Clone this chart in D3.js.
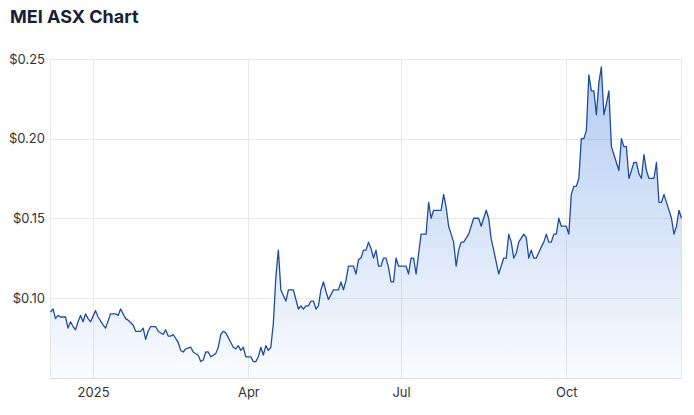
<!DOCTYPE html>
<html><head><meta charset="utf-8">
<script src="https://cdn.jsdelivr.net/npm/d3@7"></script>
<style>body{margin:0;background:#fff}svg{display:block}</style>
</head><body><svg id="c" width="694" height="415"></svg>
<script>
const title = "MEI ASX Chart";
// trading-session index (0 = first session shown) and closing price
const day = [0,1,2,3,4,6,7,8,9,10,11,12,13,14,15,16,18,19,21,22,24,26,27,28,30,31,33,34,36,37,38,39,40,42,43,45,46,47,48,49,51,52,53,54,56,57,59,60,61,62,63,64,66,67,68,69,70,72,73,74,75,76,77,78,80,81,82,83,84,85,86,87,88,89,90,91,92,94,95,97,98,99,100,101,102,103,104,105,106,107,108,109,110,111,113,115,116,117,118,119,121,122,123,124,125,126,127,128,129,130,131,132,133,134,135,136,137,138,139,142,143,144,145,146,148,150,151,152,153,156,157,158,159,160,161,162,163,164,165,167,168,169,171,172,173,174,175,176,177,179,181,182,183,184,185,186,187,189,190,191,192,193,194,196,197,198,199,200,201,202,203,204,206,207,208,209,210,211,212,213,214,215,216,217,218,219,220,221,222,223,224,225,227,228,229,230,231,232,233,234,235,236,237,238,239,241,242,243,244,245,246,248,249,250,251,252];
const price = [0.091,0.093,0.087,0.089,0.088,0.088,0.081,0.085,0.082,0.080,0.085,0.089,0.085,0.090,0.087,0.085,0.092,0.088,0.083,0.081,0.090,0.090,0.089,0.093,0.087,0.086,0.083,0.079,0.079,0.081,0.074,0.079,0.082,0.082,0.079,0.077,0.080,0.076,0.076,0.077,0.072,0.067,0.066,0.068,0.069,0.066,0.064,0.060,0.061,0.066,0.066,0.063,0.065,0.069,0.077,0.079,0.078,0.072,0.069,0.068,0.070,0.067,0.069,0.063,0.063,0.060,0.060,0.063,0.069,0.064,0.070,0.067,0.069,0.084,0.113,0.130,0.105,0.098,0.105,0.105,0.099,0.093,0.095,0.093,0.095,0.095,0.098,0.098,0.093,0.095,0.105,0.110,0.104,0.099,0.105,0.105,0.110,0.105,0.111,0.120,0.120,0.115,0.124,0.125,0.130,0.130,0.135,0.131,0.125,0.130,0.120,0.120,0.125,0.125,0.119,0.110,0.110,0.125,0.120,0.120,0.115,0.125,0.125,0.115,0.140,0.140,0.160,0.150,0.155,0.155,0.165,0.157,0.145,0.140,0.135,0.120,0.130,0.135,0.135,0.140,0.145,0.150,0.150,0.145,0.150,0.155,0.150,0.137,0.130,0.115,0.125,0.125,0.140,0.135,0.125,0.128,0.135,0.140,0.138,0.125,0.130,0.125,0.125,0.132,0.135,0.140,0.135,0.135,0.140,0.140,0.150,0.145,0.145,0.140,0.165,0.170,0.170,0.175,0.200,0.200,0.205,0.240,0.230,0.230,0.215,0.235,0.245,0.215,0.222,0.230,0.195,0.190,0.180,0.200,0.195,0.195,0.175,0.180,0.185,0.185,0.178,0.175,0.190,0.180,0.175,0.175,0.185,0.160,0.160,0.165,0.160,0.150,0.140,0.145,0.155,0.150];
const yTicks = [0.10, 0.15, 0.20, 0.25];
const xTickDays = [17, 79, 140, 206];
const xTickLabels = ["2025", "Apr", "Jul", "Oct"];
const firstDay = 0, lastDay = 252;

const data = day.map((d, i) => ({d, p: price[i]}));
const svg = d3.select("#c");
const L = 50, R = 682, T = 59, B = 377.5;
const x = d3.scaleLinear().domain([firstDay, lastDay]).range([L + 0.5, R - 0.5]);
const y = d3.scaleLinear().domain([0.05, 0.25]).range([B, T]);

const defs = svg.append("defs");
const g = defs.append("linearGradient").attr("id", "fill").attr("x1", 0).attr("y1", 0).attr("x2", 0).attr("y2", 1);
g.append("stop").attr("offset", "0%").attr("stop-color", "#4a86e0").attr("stop-opacity", 0.42);
g.append("stop").attr("offset", "100%").attr("stop-color", "#4a86e0").attr("stop-opacity", 0.03);

// gridlines
svg.append("g").selectAll("line").data(yTicks).join("line")
  .attr("x1", L).attr("x2", R).attr("y1", d => Math.round(y(d)) + 0.5).attr("y2", d => Math.round(y(d)) + 0.5)
  .attr("stroke", "#e9e9e9").attr("stroke-width", 1);
svg.append("g").selectAll("line").data(xTickDays).join("line")
  .attr("x1", d => Math.round(x(d)) + 0.5).attr("x2", d => Math.round(x(d)) + 0.5).attr("y1", T).attr("y2", B)
  .attr("stroke", "#e9e9e9").attr("stroke-width", 1);
svg.append("line").attr("x1", L + 0.5).attr("x2", L + 0.5).attr("y1", T).attr("y2", B).attr("stroke", "#e9e9e9");
svg.append("line").attr("x1", R - 0.5).attr("x2", R - 0.5).attr("y1", T).attr("y2", B).attr("stroke", "#e9e9e9");

// area + line
svg.append("path").datum(data)
  .attr("d", d3.area().x(d => x(d.d)).y0(B).y1(d => y(d.p)))
  .attr("fill", "url(#fill)");
svg.append("path").datum(data)
  .attr("d", d3.line().x(d => x(d.d)).y(d => y(d.p)))
  .attr("fill", "none").attr("stroke", "#1f4d9e").attr("stroke-width", 1.3).attr("stroke-linejoin", "round");

// bottom axis line
svg.append("line").attr("x1", L).attr("x2", R).attr("y1", Math.round(B) + 0.5).attr("y2", Math.round(B) + 0.5)
  .attr("stroke", "#dcdcdc").attr("stroke-width", 1);

// axes labels via d3 axes
const yAxis = d3.axisLeft(y).tickValues(yTicks).tickFormat(d3.format("$.2f")).tickSize(0).tickPadding(5);
const ya = svg.append("g").attr("transform", `translate(${L},0)`).call(yAxis);
ya.select(".domain").remove();
ya.selectAll("text").attr("font-family", "Inter, 'Noto Sans', sans-serif").attr("font-size", 13).attr("fill", "#333");

const xAxis = d3.axisBottom(x).tickValues(xTickDays).tickFormat((d, i) => xTickLabels[i]).tickSize(0).tickPadding(10);
const xa = svg.append("g").attr("transform", `translate(0,${B})`).call(xAxis);
xa.select(".domain").remove();
xa.selectAll("text").attr("font-family", "Inter, 'Noto Sans', sans-serif").attr("font-size", 13).attr("fill", "#333");

svg.append("text").attr("x", 10).attr("y", 23).text(title)
  .attr("font-family", "Inter, 'Noto Sans', sans-serif").attr("font-weight", 700).attr("font-size", 18).attr("fill", "#1a2135");
</script></body></html>
